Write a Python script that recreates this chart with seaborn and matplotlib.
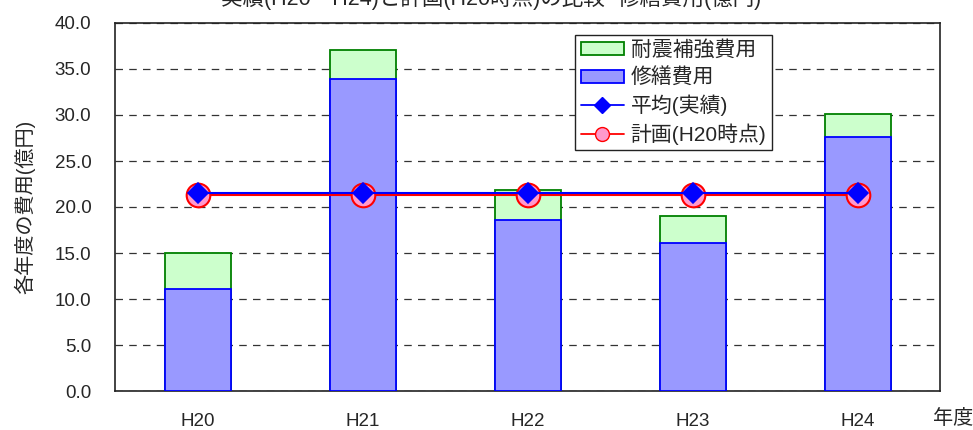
import matplotlib
matplotlib.use("Agg")
import matplotlib.pyplot as plt
import seaborn as sns
import pandas as pd
from matplotlib.patches import Patch
from matplotlib.lines import Line2D

years = ["H20", "H21", "H22", "H23", "H24"]
repair = [11.1, 33.9, 18.6, 16.1, 27.6]
total = [15.0, 37.1, 21.9, 19.0, 30.1]
average = [21.5, 21.5, 21.5, 21.5, 21.5]
plan = [21.3, 21.3, 21.3, 21.3, 21.3]

sns.set_theme(style="white")
plt.rcParams['font.family'] = ['Liberation Sans', 'Noto Sans CJK JP']

df = pd.DataFrame({"year": years, "repair": repair, "total": total,
                   "average": average, "plan": plan})

fig = plt.figure(figsize=(9.73, 4.30), dpi=100)
ax = fig.add_axes([115/973, 1 - 391/430, 825/973, 368/430])

sns.barplot(data=df, x="year", y="total", color="#ccffcc", edgecolor="#008000",
            linewidth=1.3, width=0.4, saturation=1, ax=ax, zorder=2)
sns.barplot(data=df, x="year", y="repair", color="#9999ff", edgecolor="#0000ff",
            linewidth=1.3, width=0.4, saturation=1, ax=ax, zorder=3)
sns.pointplot(data=df, x="year", y="plan", color="#ff0000", markers="o",
              markersize=17, markerfacecolor="#ff99cc", markeredgecolor="#ff0000",
              markeredgewidth=1.5, linewidth=1.5, ax=ax, zorder=4)
sns.pointplot(data=df, x="year", y="average", color="#0000ff", markers="D",
              markersize=10, linewidth=1.5, ax=ax, zorder=5)

ax.set_xlim(-0.5, 4.5)
ax.set_ylim(0, 40)
ax.set_yticks([0, 5, 10, 15, 20, 25, 30, 35, 40])
ax.set_yticklabels([f"{v:.1f}" for v in [0, 5, 10, 15, 20, 25, 30, 35, 40]], fontsize=13.5)
ax.set_xticks(range(5))
ax.set_xticklabels(years, fontsize=13.5)
ax.tick_params(axis='x', length=0, pad=16)
ax.set_xticks([0.5, 1.5, 2.5, 3.5], minor=True)
ax.tick_params(axis='x', which='minor', direction='in', length=5, width=1, color='#333333')
ax.tick_params(axis='y', direction='in', length=5, width=1, color='#333333', pad=17)
ax.yaxis.grid(True, linestyle=(0, (6, 5)), color='#333333', linewidth=0.9)
ax.set_axisbelow(True)
for s in ax.spines.values():
    s.set_color('#222222')
    s.set_linewidth(1.2)
ax.set_xlabel("")
ax.set_ylabel("各年度の費用(億円)", fontsize=14.5, labelpad=14)
fig.text(953/973, 1 - 419/430, "年度", fontsize=14.5, ha='center', va='center')

fig.text(491/973, 1 - 5/430, "実績(H20～H24)と計画(H20時点)の比較 -修繕費用(億円)",
         fontsize=15.5, ha='center', va='baseline')

handles = [
    Patch(facecolor="#ccffcc", edgecolor="#008000", linewidth=1.3),
    Patch(facecolor="#9999ff", edgecolor="#0000ff", linewidth=1.3),
    Line2D([0], [0], color="#0000ff", marker="D", markersize=8, linewidth=1.3),
    Line2D([0], [0], color="#ff0000", marker="o", markersize=10,
           markerfacecolor="#ff99cc", markeredgecolor="#ff0000", linewidth=1.3),
]
labels = ["耐震補強費用", "修繕費用", "平均(実績)", "計画(H20時点)"]
leg = ax.legend(handles, labels, loc="upper left", bbox_to_anchor=(0.558, 0.967),
                fontsize=15, frameon=True, fancybox=False, framealpha=1,
                edgecolor='#222222', borderpad=0.25, labelspacing=0.35,
                handlelength=2.1, handleheight=0.6, handletextpad=0.3, borderaxespad=0)
leg.get_frame().set_linewidth(1.0)

fig.savefig("out.png", dpi=100)
